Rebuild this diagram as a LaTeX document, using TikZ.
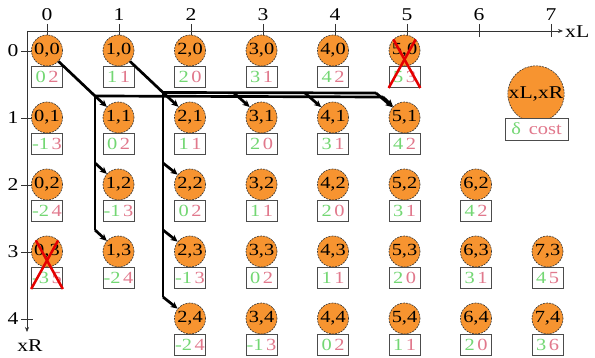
\documentclass[tikz,border=0pt]{standalone}
\usepackage{fontspec}
\setmainfont{Liberation Serif}[FakeStretch=1.2]
\usetikzlibrary{arrows.meta}
\definecolor{nodeor}{RGB}{247,148,48}
\definecolor{dgreen}{RGB}{115,215,115}
\definecolor{dpink}{RGB}{225,120,140}
\begin{document}
\begin{tikzpicture}[x=1pt,y=-1pt,
  st/.style={circle,draw=black!80,dash pattern=on 2pt off 1pt,line width=0.6pt,fill=nodeor,minimum size=31pt,inner sep=0pt,font=\fontsize{17}{17}\selectfont},
  cb/.style={draw=black!70,line width=0.7pt,fill=white,minimum width=31pt,minimum height=21pt,inner sep=0pt,font=\fontsize{17}{17}\selectfont},
  conn/.style={line width=2.7pt,black},
  arr/.style={conn,-{Stealth[length=7pt,width=6.5pt]}},
  axis/.style={line width=0.6pt,black!80},
  lab/.style={font=\fontsize{18}{18}\selectfont,inner sep=0pt},
  xmark/.style={red!90!black,line width=2.5pt}]
\useasboundingbox (0,0) rectangle (595,358);
% axes
\coordinate (o) at (27,31);
\coordinate (xe) at (563,31);
\coordinate (ye) at (27,332);
\draw[axis,-{Stealth[length=5pt,width=4pt]}] (o) -- (xe);
\draw[axis,-{Stealth[length=5pt,width=4pt]}] (o) -- (ye);
\node[lab,anchor=west] (xl) at (565,32) {xL};
\node[lab] (xr) at (30,346) {xR};
\foreach \i in {0,...,7}{
  \draw[axis] ({47+72*\i},24) -- ({47+72*\i},37);
  \node[lab] (tx\i) at ({47+72*\i},15) {\i};
}
\foreach \j in {0,...,4}{
  \draw[axis] (21,{51+67*\j}) -- (33,{51+67*\j});
  \node[lab] (ty\j) at (13,{51+67*\j}) {\j};
}
% connector junctions
\coordinate (p0) at (95,96);
\coordinate (p2) at (95,163);
\coordinate (p3) at (95,230);
\coordinate (pe) at (383,97);
\coordinate (q0) at (163,92.5);
\coordinate (q2) at (163,163);
\coordinate (q3) at (163,230);
\coordinate (q4) at (163,297);
\coordinate (q5) at (234,93);
\coordinate (q6) at (305,93);
\coordinate (qe) at (376,93);
% nodes
\foreach \i/\j/\d/\c in {0/0/0/2,1/0/1/1,2/0/2/0,3/0/3/1,4/0/4/2,5/0/5/3,
  0/1/-1/3,1/1/0/2,2/1/1/1,3/1/2/0,4/1/3/1,5/1/4/2,
  0/2/-2/4,1/2/-1/3,2/2/0/2,3/2/1/1,4/2/2/0,5/2/3/1,6/2/4/2,
  0/3/-3/5,1/3/-2/4,2/3/-1/3,3/3/0/2,4/3/1/1,5/3/2/0,6/3/3/1,7/3/4/5,
  2/4/-2/4,3/4/-1/3,4/4/0/2,5/4/1/1,6/4/2/0,7/4/3/6}{
  \node[st] (n\i\j) at ({47+71.5*\i},{50.5+67*\j}) {\i,\j};
  \node[cb,anchor=north] (b\i\j) at (n\i\j.south) {\textcolor{dgreen}{\d}\hspace{2.5pt}\textcolor{dpink}{\c}};
}
% connectors
\draw[conn] (n00) -- (p0);
\draw[arr] (p0) -- (n11);
\draw[conn] (p0) -- (p3);
\draw[arr] (p2) -- (n12);
\draw[arr] (p3) -- (n13);
\draw[conn] (p0) -- (pe);
\draw[arr] (pe) -- (n51);
\draw[conn] (n10) -- (q0);
\draw[arr] (q0) -- (n21);
\draw[conn] (q0) -- (q4);
\draw[arr] (q2) -- (n22);
\draw[arr] (q3) -- (n23);
\draw[arr] (q4) -- (n24);
\draw[conn] (q0) -- (qe);
\draw[arr] (qe) -- (n51);
\draw[arr] (q5) -- (n31);
\draw[arr] (q6) -- (n41);
% crosses
\draw[xmark] (b50.south west) -- (n50.north east);
\draw[xmark] (b50.south east) -- (n50.north west);
\draw[xmark] (b03.south west) -- (n03.north east);
\draw[xmark] (b03.south east) -- (n03.north west);
% legend
\node[st,minimum size=56pt,font=\fontsize{18}{18}\selectfont] (lg) at (536,94) {xL,xR};
\node[cb,minimum width=63pt,minimum height=22pt,font=\fontsize{17}{17}\selectfont] (lgb) at (536.5,129) {\textcolor{dgreen}{δ}\hspace{8pt}\textcolor{dpink}{cost}};
\end{tikzpicture}
\end{document}
